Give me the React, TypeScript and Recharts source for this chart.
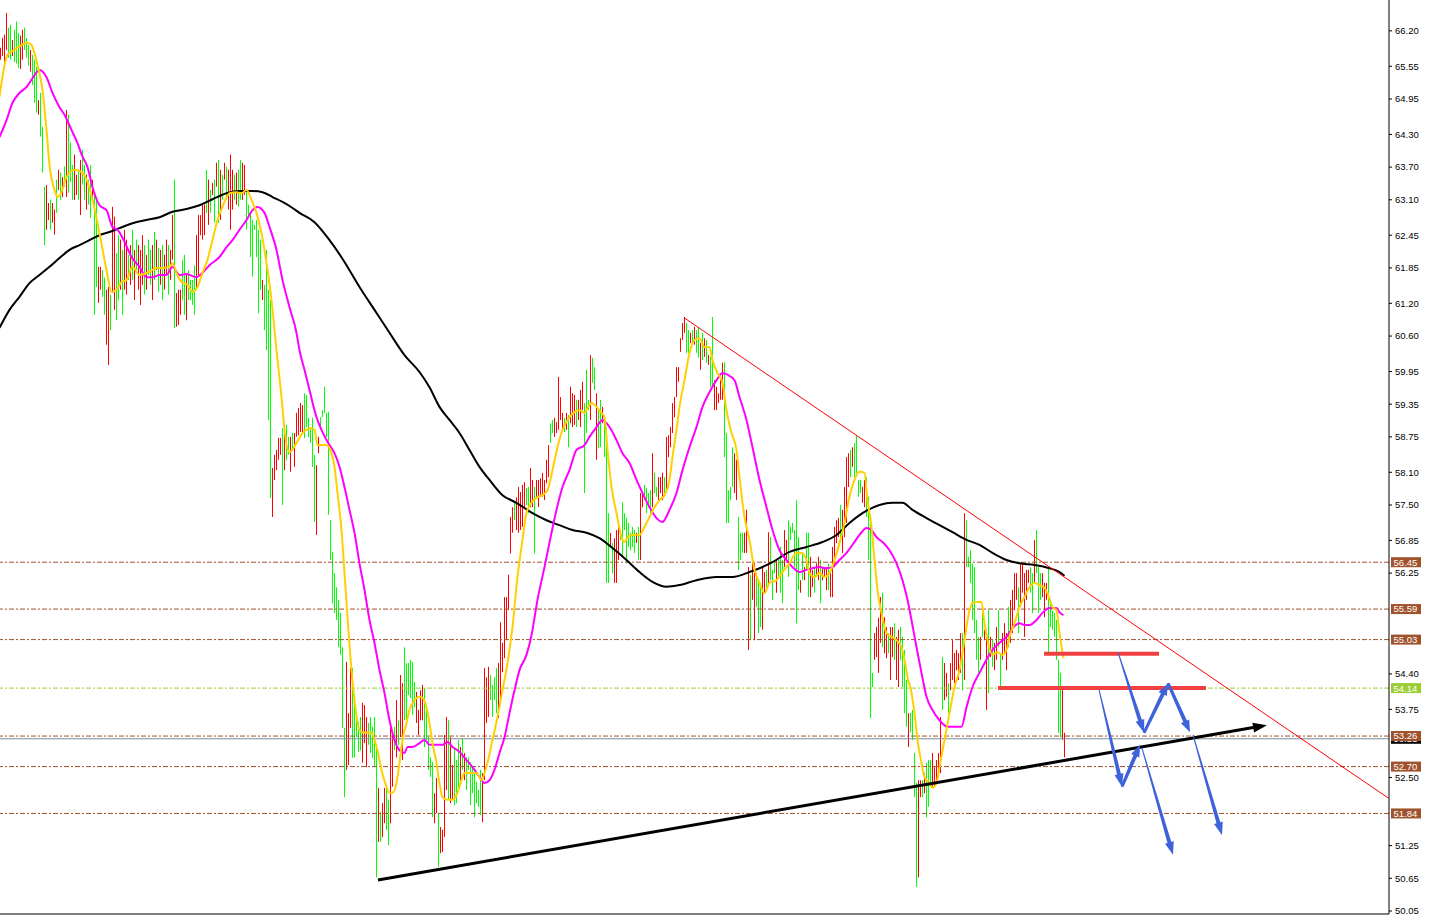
import { ComposedChart, Bar, Line, XAxis, YAxis, ReferenceLine } from 'recharts'

// price bars, one per period (high / low / direction g=up r=down)
const barHigh = [
  65.89,66.07,66.13,66.53,66.26,66.31,66.03,66.22,66.37,66.16,
  66.11,66.22,66.26,66.07,65.94,65.85,65.76,65.67,65.54,64.93,
  65.06,64.44,63.34,63.37,63.04,63.10,63.04,62.92,63.47,63.65,
  63.60,63.52,63.71,64.75,64.66,64.15,63.74,63.93,63.56,63.65,
  63.83,64.02,63.74,63.56,63.47,63.74,63.47,63.23,63.14,61.87,
  61.87,61.81,61.67,61.45,61.50,61.36,62.97,62.79,62.12,62.45,
  62.37,62.18,62.55,62.37,62.09,62.27,62.55,62.18,62.37,62.27,
  62.18,62.45,62.27,62.09,62.37,62.18,62.27,62.51,62.37,62.22,
  62.18,62.27,62.09,62.37,62.27,62.18,62.82,63.47,61.39,61.45,
  61.45,62.00,62.09,61.72,61.81,61.63,61.63,61.90,62.45,62.82,
  62.82,63.01,63.01,63.65,63.47,63.28,63.41,63.47,63.78,63.83,
  63.65,63.56,63.78,63.71,63.65,63.93,63.65,63.56,63.60,63.65,
  63.83,63.78,63.74,63.28,63.01,62.86,62.73,62.64,62.73,62.55,
  62.37,61.63,61.54,62.18,61.45,61.26,58.18,58.42,58.51,58.73,
  58.73,58.91,59.00,58.97,58.75,58.75,58.82,58.82,59.19,59.28,
  59.37,59.33,59.55,59.52,59.10,58.91,59.10,58.42,58.23,58.75,
  59.11,59.24,59.67,59.19,59.21,57.22,56.64,56.25,55.99,55.76,
  55.52,54.89,53.41,54.62,53.68,54.51,54.51,53.98,53.61,53.52,
  53.61,53.87,53.83,53.61,53.50,53.61,53.43,53.61,53.10,52.31,
  51.87,52.03,52.31,52.31,52.09,53.50,53.33,53.43,53.92,53.55,
  54.38,54.23,54.89,54.60,54.60,54.66,54.62,54.25,54.07,53.74,
  54.10,54.20,54.14,53.79,53.24,52.87,52.78,52.21,52.49,51.85,
  51.59,51.54,53.28,53.61,53.55,53.24,52.73,53.04,52.82,53.19,
  53.06,53.22,52.95,52.87,52.87,52.78,52.67,52.58,52.42,52.27,
  52.64,52.58,54.51,54.34,54.53,54.38,54.20,54.34,54.51,54.60,
  55.35,54.97,55.81,55.81,56.22,57.28,57.46,57.55,57.64,57.83,
  57.74,57.87,57.92,57.81,57.83,58.18,57.96,57.83,57.96,57.96,
  57.99,58.09,57.96,58.33,58.60,59.00,59.06,59.10,59.02,59.85,
  59.48,59.19,59.10,59.19,59.15,59.67,59.55,59.52,59.43,59.43,
  59.61,59.76,59.37,59.98,59.43,60.25,60.20,60.03,59.55,59.24,
  59.43,59.30,59.11,58.93,57.35,56.99,56.80,56.89,57.04,57.13,
  56.99,57.55,57.35,57.26,57.17,56.99,57.10,57.04,56.99,57.10,
  57.72,57.74,57.87,57.81,57.72,57.77,58.45,58.09,57.83,58.01,
  58.01,58.09,58.01,58.75,58.78,58.93,59.37,59.48,60.03,60.03,
  60.56,60.84,60.95,60.84,60.71,60.66,60.71,60.77,60.71,60.77,
  60.47,60.66,60.56,60.53,60.25,60.22,60.95,59.79,59.67,59.55,
  59.79,60.11,60.12,58.82,57.77,57.83,58.56,58.45,58.33,57.28,
  56.99,56.99,56.99,57.41,56.36,56.22,56.49,56.43,56.25,56.12,
  56.07,56.36,56.27,56.31,57.00,56.91,56.31,56.49,56.49,56.49,
  56.73,56.49,57.04,56.86,57.22,57.10,57.17,57.04,57.59,56.91,
  56.12,56.62,56.36,56.99,56.99,56.55,56.31,56.36,56.43,56.55,
  56.49,56.36,56.36,56.36,56.43,56.25,56.73,57.10,57.22,57.26,
  57.50,57.41,57.83,58.38,58.45,58.51,58.56,58.64,58.78,57.96,
  57.96,57.83,57.96,58.01,57.65,57.22,54.42,55.15,55.26,55.43,
  55.81,55.89,55.44,55.26,55.15,55.26,55.26,55.33,55.08,55.21,
  55.26,55.08,54.84,54.29,53.68,53.68,53.74,52.95,52.40,52.45,
  52.45,52.45,52.58,52.77,52.82,52.82,52.95,52.69,52.82,52.95,
  53.61,54.71,54.60,54.42,54.23,54.60,55.02,54.78,54.84,54.78,
  55.15,55.15,57.35,57.22,56.55,56.67,56.43,56.36,55.39,55.08,
  55.08,55.52,55.21,55.15,55.57,55.08,55.02,54.97,55.26,55.57,
  54.78,55.15,55.33,55.15,55.63,55.76,55.94,56.25,56.25,55.99,
  56.43,56.43,56.25,56.31,56.31,56.36,56.25,56.86,57.04,56.36,
  56.25,56.25,56.07,56.07,56.36,55.76,55.57,55.52,55.39,54.66,
  54.42,54.16,53.32,
]

const barLow = [
  65.67,65.74,65.63,65.85,65.71,65.67,65.74,65.63,65.60,65.52,
  65.50,65.67,65.85,65.71,65.56,65.45,65.21,64.88,64.70,64.66,
  64.26,63.60,62.27,62.55,62.73,62.55,62.68,62.46,62.86,63.28,
  63.10,63.15,63.34,63.15,63.23,63.43,63.10,63.10,63.19,63.10,
  62.82,63.38,63.10,62.92,63.01,62.77,63.10,60.99,61.50,61.21,
  61.45,61.32,60.99,60.44,60.07,60.71,61.39,61.08,60.89,61.26,
  61.45,60.99,61.45,61.36,61.63,61.54,61.63,61.26,61.81,61.45,
  61.17,61.54,61.36,61.45,61.72,61.54,61.26,61.63,61.81,61.41,
  61.54,61.26,61.45,61.72,61.36,61.63,62.00,60.75,60.77,60.80,
  60.99,61.26,60.99,60.89,61.26,61.26,61.17,60.99,61.45,61.72,
  62.45,62.37,62.45,62.86,62.64,62.86,63.19,62.68,63.34,62.68,
  62.73,63.10,63.47,63.10,62.92,62.55,62.92,63.10,63.01,62.97,
  63.10,63.10,63.19,62.55,62.82,62.05,61.69,62.55,62.05,61.02,
  61.45,61.26,60.71,60.34,59.06,57.63,57.28,57.96,58.14,58.33,
  58.42,57.50,58.14,58.33,58.42,58.11,58.51,58.20,58.75,58.78,
  58.84,58.82,58.73,58.93,58.75,58.64,58.20,57.19,56.95,58.45,
  58.88,59.11,59.19,58.75,57.32,56.49,55.70,55.52,55.39,54.89,
  54.75,53.41,52.14,52.64,52.73,53.41,52.86,52.87,53.24,52.97,
  53.00,52.77,53.13,52.69,53.10,52.95,52.86,52.69,50.67,51.32,
  51.32,51.41,51.66,51.54,51.26,51.66,52.33,53.00,52.87,53.10,
  53.24,52.82,53.55,53.55,54.01,53.96,53.65,53.79,53.50,53.28,
  53.55,53.55,53.06,53.19,52.64,52.51,51.77,51.66,51.85,50.86,
  51.11,51.13,51.41,52.27,52.09,52.03,52.09,51.99,52.03,52.27,
  52.45,52.64,52.45,52.27,52.64,51.99,52.21,51.77,52.03,51.96,
  51.81,51.68,52.45,53.50,53.61,53.92,53.61,53.92,53.68,53.59,
  53.96,54.43,54.69,55.02,55.57,56.61,56.99,57.22,57.04,56.99,
  57.04,57.10,57.46,57.50,57.35,57.46,57.46,56.61,57.65,57.46,
  57.65,57.65,57.59,57.90,58.01,58.64,58.82,58.75,58.82,58.88,
  59.06,58.88,58.84,58.88,58.56,59.00,58.93,58.97,58.93,59.06,
  58.93,59.24,57.72,58.82,59.24,59.06,59.74,59.61,58.33,58.54,
  58.56,59.00,58.38,56.07,56.07,56.73,56.25,56.07,56.07,56.49,
  56.86,56.55,57.04,56.43,56.73,56.67,56.73,56.62,56.80,56.49,
  56.49,57.46,57.59,57.35,57.46,57.35,57.46,57.72,57.65,57.59,
  57.72,57.59,57.72,57.74,58.38,58.56,58.82,59.11,59.48,59.76,
  60.31,60.53,60.66,60.29,60.29,60.47,60.47,60.44,60.29,60.20,
  59.98,60.16,60.22,60.11,60.07,59.67,59.67,59.24,59.24,59.37,
  59.43,59.43,58.38,57.17,57.17,57.59,57.83,57.72,57.59,56.31,
  56.49,56.62,56.62,56.62,54.84,55.02,55.76,55.02,55.63,55.15,
  55.26,55.21,55.89,55.99,56.07,56.12,55.76,56.25,55.89,56.18,
  55.89,55.70,56.36,56.49,56.18,56.86,56.99,56.36,55.33,55.94,
  55.89,56.12,56.12,56.31,55.81,55.81,55.99,55.89,56.18,56.12,
  55.70,56.12,56.18,55.94,55.94,55.81,55.81,56.36,56.80,56.91,
  56.86,56.62,56.91,57.17,57.83,58.01,58.20,58.01,58.09,57.65,
  57.72,57.54,57.46,57.28,56.49,53.59,54.16,54.66,54.71,54.42,
  54.97,54.89,54.78,54.69,54.78,54.29,54.71,54.66,54.29,54.16,
  54.66,54.16,53.68,53.43,53.06,53.33,53.19,52.14,50.49,50.67,
  52.14,52.14,52.21,51.77,51.96,52.33,52.33,52.33,52.45,52.51,
  52.58,53.74,53.92,53.98,53.68,54.10,54.29,54.23,54.47,54.29,
  54.42,54.10,54.29,56.36,56.36,56.07,55.39,55.15,54.66,54.42,
  54.66,55.08,55.02,53.74,54.05,54.71,54.53,54.47,54.66,54.89,
  54.10,54.66,54.78,54.47,54.89,54.97,55.15,55.57,55.76,55.15,
  55.63,55.89,55.08,55.76,56.07,55.89,55.52,56.07,56.25,55.52,
  55.76,55.81,55.44,55.76,54.78,55.26,55.21,55.08,54.66,53.32,
  53.24,53.19,52.87,
]

const barDir =
  'rrrrggrggg' + 'rrgggrgggr' + 'gggrrgrrgr' + 'grgrgggrrg' + 'rggrggrggr' +
  'rggrrgrrgg' + 'rgrrgrgrgr' + 'rrgrggrgrg' + 'rgrrgrrgrr' + 'rggrggggrr' +
  'rrrgrgrgrg' + 'rgrgrrrgrg' + 'grrggggggg' + 'grggggrrrr' + 'rgrggrgrrr' +
  'rrggggggrr' + 'gggggggggg' + 'gggrrrgggg' + 'grrrgggggr' + 'grrggrrgrg' +
  'rrggggggrr' + 'rrgggggrrg' + 'rrrrgrrggg' + 'rgrggggggg' + 'grrrrggggr' +
  'rrrrrrrgrr' + 'rrrggrrgrr' + 'rrrrrggrrr' + 'rrgrgrrrgr' + 'rrgggrggrg' +
  'grgggrgrrr' + 'ggggggggrg' + 'rrggggrggr' + 'rrgrrrrrrr' + 'rrrggrgrgg' +
  'rgrgrggrrr' + 'rrgggggrrg' + 'ggrrrgrrgg' + 'grrgrgggrg' + 'ggrrgggggg' +
  'rgrggrrgrr' + 'grrrgrrrrr' + 'grrrrgrggg' + 'grrggggrrr' + 'rgrrgrrgrr' +
  'ggggrggggr' + 'rgrgggrrrr' + 'rgrrgrrrrr' + 'rgrggggggg' + 'rgrrgrgrrg' +
  'grrrgrrrrg' + 'rrrrrggrgg' + 'grrrgggggg' + 'grr'

// moving averages: [bar index, price]
const maFast: [number, number][] = [
  [-0.5,64.99],[3.5,65.76],[7,65.85],[10.5,65.94],[13.5,65.98],[15.5,65.94],[16.5,65.85],[18.5,65.57],[21,65.11],[23,64.38],
  [24.5,63.74],[27,63.28],[28.5,63.15],[30.5,63.24],[33,63.52],[37,63.65],[41,63.59],[43.5,63.43],[46,63.10],[49.5,62.49],
  [53,61.81],[55.5,61.41],[58,61.45],[60.5,61.59],[63,61.63],[66,61.87],[69.5,61.72],[74.5,61.78],[78,61.85],[81,61.85],
  [84.5,61.87],[86,61.94],[88,61.76],[90.5,61.59],[93.5,61.54],[96,61.41],[98.5,61.50],[101,61.76],[103.5,62.00],[106,62.36],
  [108.5,62.73],[111,62.97],[114.5,63.22],[118,63.24],[120.5,63.22],[123,63.28],[125.5,63.10],[128,62.86],[130.5,62.49],[133,61.94],
  [135.5,61.26],[138,60.34],[140.5,59.48],[142,58.88],[144.5,58.47],[148,58.64],[151,58.82],[155.5,58.91],[157,58.88],[158.5,58.60],
  [163,58.60],[164.5,58.54],[167,58.20],[168.5,57.72],[170.5,57.04],[172,56.25],[173.5,55.44],[175.5,54.47],[177,53.92],[179.5,53.37],
  [182,53.32],[183.5,53.33],[185.5,53.32],[187,53.19],[188.5,53.00],[190.5,52.64],[193,52.33],[194.5,52.22],[196,52.22],[198,52.40],
  [199.5,52.77],[201,53.19],[203,53.50],[204.5,53.74],[207,53.92],[209.5,53.98],[211,53.96],[213,53.79],[214.5,53.50],[216,53.13],
  [218,52.77],[219.5,52.40],[221,52.14],[223.5,52.09],[226,52.09],[228.5,52.22],[230.5,52.45],[232,52.58],[234.5,52.58],[238,52.58],
  [240.5,52.45],[242,52.58],[243.5,52.77],[246,53.19],[248.5,53.61],[251,54.10],[253.5,54.60],[256,55.26],[258.5,56.18],[260.5,56.73],
  [263,57.35],[265.5,57.54],[268,57.63],[271,57.68],[273.5,57.77],[276,58.14],[278.5,58.56],[281,58.88],[284.5,59.11],[287,59.21],
  [289.5,59.24],[292,59.19],[293.5,59.28],[295.5,59.37],[298,59.30],[300.5,59.19],[302,59.11],[303.5,58.51],[305.5,57.83],[308,57.35],
  [310.5,56.91],[312,56.82],[313.5,56.91],[316,56.95],[319.5,56.95],[322,57.10],[324.5,57.28],[327,57.46],[329.5,57.59],[332,57.68],
  [334.5,57.96],[336,58.38],[338,58.88],[339.5,59.30],[342,59.79],[344.5,60.29],[347,60.53],[349.5,60.56],[352,60.40],[354.5,60.40],
  [356,60.16],[358.5,59.92],[361,59.74],[363,59.24],[365.5,58.82],[368,58.51],[369.5,58.01],[372,57.28],[374.5,56.86],[377,56.31],
  [379.5,56.07],[382,55.88],[384.5,56.07],[388,56.12],[391,56.27],[394.5,56.43],[398,56.62],[400.5,56.62],[403,56.49],[404.5,56.25],
  [407,56.18],[409.5,56.25],[412,56.18],[414.5,56.25],[417,56.49],[419.5,56.80],[422,57.17],[424.5,57.65],[427,57.96],[429.5,58.11],
  [432,58.09],[433.5,57.59],[435.5,57.10],[437,56.49],[438.5,55.94],[440.5,55.52],[443,55.15],[445.5,55.08],[448,55.02],[450.5,54.89],
  [452,54.66],[453.5,54.34],[455.5,54.05],[457,53.68],[458.5,53.19],[460.5,52.77],[462,52.51],[464.5,52.40],[466,52.31],[468,52.40],
  [469.5,52.69],[472,53.19],[474.5,53.68],[477,54.16],[479.5,54.47],[482,55.02],[484.5,55.57],[486,55.70],[488.5,55.72],[490.5,55.72],
  [492,55.33],[493.5,55.02],[496,54.75],[498.5,54.80],[501,54.75],[503,54.84],[504.5,55.08],[507,55.33],[509.5,55.63],[512,55.81],
  [514.5,55.99],[517,56.07],[519.5,56.03],[522,55.98],[523.5,55.88],[526,55.63],[528,55.57],[529.5,55.15],[531.5,54.69],
]

const maMid: [number, number][] = [
  [-0.5,64.25],[3,64.56],[6,64.88],[9.5,65.06],[13,65.17],[16,65.33],[19.5,65.48],[23,65.35],[26,65.06],[29.5,64.80],
  [32,64.66],[35.5,64.38],[38.5,64.14],[41,63.89],[43.5,63.70],[46,63.33],[49.5,63.00],[53,62.91],[56,62.60],[58.5,62.55],
  [62,62.33],[65.5,62.05],[69.5,61.87],[73,61.68],[76,61.68],[79.5,61.72],[83,61.72],[86,61.87],[89.5,61.72],[93,61.74],
  [98,61.68],[101,61.76],[104.5,61.90],[109.5,62.05],[113,62.23],[116,62.36],[119.5,62.55],[123,62.73],[126,62.91],[128.5,62.97],
  [132,62.86],[134.5,62.60],[138,62.18],[141,61.63],[144.5,61.13],[148,60.66],[149.5,60.34],[152,59.98],[154.5,59.61],[158,59.11],
  [160.5,58.88],[163.5,58.66],[167,58.45],[169.5,58.20],[172,57.83],[174.5,57.41],[177,56.99],[179.5,56.43],[182,55.94],[184.5,55.39],
  [187,54.97],[189.5,54.47],[192,54.05],[194.5,53.55],[197,53.19],[199.5,53.00],[202,52.95],[203.5,53.06],[206,53.06],[209.5,53.13],
  [212,53.19],[214.5,53.10],[218,53.10],[221,53.10],[223.5,53.15],[226,53.06],[229.5,52.97],[233,52.82],[236,52.69],[239.5,52.51],
  [242,52.40],[244.5,52.45],[247,52.64],[249.5,52.95],[252,53.24],[254.5,53.68],[257,54.10],[259.5,54.47],[263,54.75],[265.5,55.11],
  [268.5,55.76],[272,56.36],[275.5,56.99],[278,57.41],[281,57.83],[284.5,58.14],[288,58.51],[292,58.60],[294.5,58.75],[298,58.93],
  [301,59.06],[304.5,58.93],[308,58.69],[311,58.45],[314.5,58.27],[318,57.96],[321,57.72],[324.5,57.46],[328,57.26],[331,57.19],
  [334.5,57.41],[338,57.72],[341,58.14],[344.5,58.56],[348,58.93],[351,59.30],[354.5,59.57],[358,59.79],[361,59.92],[363.5,59.89],
  [367,59.79],[369.5,59.48],[373,59.06],[376,58.56],[379.5,57.96],[383,57.46],[386,57.04],[389.5,56.67],[393,56.49],[396,56.36],
  [399.5,56.27],[403,56.31],[406,56.34],[409.5,56.36],[413,56.34],[416,56.36],[419.5,56.49],[423,56.62],[426,56.77],[429.5,56.95],
  [433,57.08],[435.5,57.04],[438,56.91],[441,56.82],[444.5,56.67],[448,56.43],[451,56.12],[453.5,55.76],[455.5,55.39],[458,54.89],
  [460.5,54.42],[463,53.98],[466,53.74],[469.5,53.55],[473.5,53.43],[480.5,53.43],[483,53.79],[486,54.16],[489.5,54.42],[493,54.66],
  [496,54.84],[499.5,54.97],[503,55.08],[506,55.24],[509.5,55.33],[512,55.30],[514.5,55.30],[518,55.39],[521,55.52],[524.5,55.61],
  [528,55.61],[529.5,55.53],[531.5,55.48],
]

const maSlow: [number, number][] = [
  [-0.5,60.75],[4.5,61.08],[9.5,61.32],[14.5,61.57],[19.5,61.72],[24.5,61.87],[29.5,62.03],[34.5,62.18],[39.5,62.27],[44.5,62.36],
  [49.5,62.45],[54.5,62.51],[59.5,62.58],[66,62.67],[73,62.73],[79.5,62.78],[86,62.88],[93,62.93],[99.5,63.00],[106,63.11],
  [113,63.22],[119.5,63.26],[126,63.26],[131,63.24],[136,63.15],[141,63.06],[146,62.95],[149.5,62.86],[157,62.69],[164.5,62.36],
  [172,61.96],[179.5,61.50],[187,61.08],[194.5,60.66],[202,60.25],[209.5,59.94],[214.5,59.66],[219.5,59.30],[224.5,59.06],[229.5,58.82],
  [234.5,58.51],[239.5,58.20],[244.5,57.96],[251,57.68],[258,57.54],[266,57.35],[273,57.22],[279.5,57.13],[286,57.04],[293,56.99],
  [299.5,56.89],[306,56.71],[313,56.49],[319.5,56.27],[326,56.09],[333,56.00],[339.5,56.03],[348,56.12],[358,56.18],[366,56.18],
  [374.5,56.27],[386,56.45],[394.5,56.64],[403,56.73],[411,56.82],[418,56.95],[424.5,57.17],[431,57.35],[439.5,57.50],[446,57.54],
  [451,57.54],[456,57.41],[463,57.26],[469.5,57.13],[476,57.00],[483,56.86],[489.5,56.77],[496,56.62],[503,56.49],[509.5,56.43],
  [517,56.40],[524.5,56.34],[529.5,56.27],[532,56.20],
]

// horizontal levels
const brownLevels = [56.45, 55.59, 55.03, 53.26, 52.7, 51.84]
const greenLevel = 54.14
const lastPrice = 53.21

// drawn objects, in [bar index, price]
const resistanceLine: [number, number][] = [[342, 60.93], [694, 52.12]]
const supportLine: [number, number][] = [[188.75, 50.62], [633.25, 53.46]]
const zoneUpper = { from: 521.75, to: 579.25, price: 54.77 }
const zoneLower = { from: 498.75, to: 602.75, price: 54.14 }
const pathA: [number, number][] = [[549.25, 54.11], [560.75, 52.33], [569.75, 53.1]]
const tailA: [number, number][] = [[570.75, 53.04], [586.25, 51.08]]
const pathB: [number, number][] = [[558.75, 54.8], [571.75, 53.32], [583.75, 54.23], [594.75, 53.33]]
const tailB: [number, number][] = [[596.25, 53.28], [610.75, 51.44]]

const yTicks = [66.2, 65.55, 64.95, 64.3, 63.7, 63.1, 62.45, 61.85, 61.2, 60.6, 59.95, 59.35, 58.75, 58.1, 57.5, 56.85, 56.25, 54.4, 53.75, 52.5, 51.25, 50.65, 50.05]
const xTicks = Array.from({ length: 22 }, (_, k) => 14 + 32 * k)

const bars = barHigh.map((h, i) => ({ i, hl: [barLow[i], h], up: barDir[i] === 'g' }))
const toPts = (arr: [number, number][]) => arr.map(([i, v]) => ({ i, v }))

const BROWN = '#A0522D'
const GREEN_LVL = '#9ACD32'
const BLUE = '#3D62DA'

function HLBar(props: any) {
  const { x, y, width, height, payload } = props
  if (y == null || height == null || isNaN(y)) return null
  const top = Math.min(y, y + height)
  const h = Math.max(1, Math.abs(height))
  const col = Math.floor(x + width / 2)
  return <rect x={col} y={top} width={1} height={h} fill={payload.up ? '#00FF00' : '#FF0000'} />
}

function PriceTag({ viewBox, price, color }: any) {
  if (!viewBox) return null
  const x = viewBox.x + viewBox.width + 2
  const y = viewBox.y
  return (
    <g>
      <rect x={x} y={y - 5} width={30} height={10} fill={color} />
      <text x={x + 2.5} y={y} dy="0.36em" fill="#fff" fontSize={9.5} fontFamily="Liberation Sans, Arial, sans-serif">
        {price.toFixed(2)}
      </text>
    </g>
  )
}

function arrowShape(color: string, tail: number, body: number, headLen: number, headW: number) {
  return (props: any) => {
    const { x1, y1, x2, y2 } = props
    if ([x1, y1, x2, y2].some((n) => n == null || isNaN(n))) return <g />
    const dx = x2 - x1
    const dy = y2 - y1
    const len = Math.hypot(dx, dy) || 1
    const ux = dx / len
    const uy = dy / len
    const nx = -uy
    const ny = ux
    const bx = x2 - ux * headLen
    const by = y2 - uy * headLen
    const pts = [
      [x1 + (nx * tail) / 2, y1 + (ny * tail) / 2],
      [bx + (nx * body) / 2, by + (ny * body) / 2],
      [bx + (nx * headW) / 2, by + (ny * headW) / 2],
      [x2, y2],
      [bx - (nx * headW) / 2, by - (ny * headW) / 2],
      [bx - (nx * body) / 2, by - (ny * body) / 2],
      [x1 - (nx * tail) / 2, y1 - (ny * tail) / 2],
    ]
    return <polygon points={pts.map((p) => p.join(',')).join(' ')} fill={color} />
  }
}

const seg = (a: [number, number], b: [number, number]) => [
  { x: a[0], y: a[1] },
  { x: b[0], y: b[1] },
]

const thinToThick = arrowShape(BLUE, 1, 4, 13, 9)
const thickArrow = arrowShape(BLUE, 3, 4, 12, 9)
const blackArrow = arrowShape('#000', 3, 3, 14, 10)

export default function App() {
  return (
    <div style={{ position: 'absolute', left: 0, top: 0, width: 1430, height: 917, background: '#fff' }}>
      <ComposedChart
        width={1430}
        height={917}
        data={bars}
        margin={{ top: 0, right: 0, bottom: 0, left: 0 }}
        style={{ fontFamily: 'Liberation Sans, Arial, sans-serif' }}
      >
        <XAxis
          type="number"
          dataKey="i"
          domain={[-0.25, 694.25]}
          allowDataOverflow
          ticks={xTicks}
          interval={0}
          tick={false}
          tickSize={3}
          height={3}
          axisLine={{ stroke: '#000' }}
          tickLine={{ stroke: '#000' }}
        />
        <YAxis
          orientation="right"
          type="number"
          domain={[49.995, 66.766]}
          allowDataOverflow
          ticks={yTicks}
          interval={0}
          width={41}
          tickSize={3}
          tickMargin={3}
          tick={{ fill: '#000', fontSize: 9.5 }}
          tickFormatter={(v: number) => v.toFixed(2)}
          axisLine={{ stroke: '#000' }}
          tickLine={{ stroke: '#000' }}
        />

        {brownLevels.map((p) => (
          <ReferenceLine
            key={p}
            y={p}
            stroke={BROWN}
            strokeDasharray="5 2 2 2"
            label={<PriceTag price={p} color={BROWN} />}
          />
        ))}
        <ReferenceLine y={greenLevel} stroke={GREEN_LVL} strokeDasharray="5 2 2 2" label={<PriceTag price={greenLevel} color={GREEN_LVL} />} />
        <ReferenceLine y={lastPrice} stroke="#7A8A9A" label={<PriceTag price={lastPrice} color="#000" />} />
        <ReferenceLine y={53.26} stroke="none" label={<PriceTag price={53.26} color={BROWN} />} />

        <Bar dataKey="hl" barSize={1} shape={HLBar} isAnimationActive={false} />

        <Line data={toPts(maSlow)} dataKey="v" type="monotone" stroke="#000" strokeWidth={2} dot={false} activeDot={false} isAnimationActive={false} />
        <Line data={toPts(maMid)} dataKey="v" type="monotone" stroke="#FF00FF" strokeWidth={2} dot={false} activeDot={false} isAnimationActive={false} />
        <Line data={toPts(maFast)} dataKey="v" type="monotone" stroke="#FFD000" strokeWidth={2} dot={false} activeDot={false} isAnimationActive={false} />

        <ReferenceLine segment={seg(resistanceLine[0], resistanceLine[1])} stroke="#FF0000" strokeWidth={1} ifOverflow="visible" />
        <ReferenceLine segment={seg(supportLine[0], supportLine[1])} ifOverflow="visible" shape={blackArrow} />
        <ReferenceLine
          segment={[{ x: zoneUpper.from, y: zoneUpper.price }, { x: zoneUpper.to, y: zoneUpper.price }]}
          stroke="#F24040"
          strokeWidth={4}
          ifOverflow="visible"
        />
        <ReferenceLine
          segment={[{ x: zoneLower.from, y: zoneLower.price }, { x: zoneLower.to, y: zoneLower.price }]}
          stroke="#F24040"
          strokeWidth={4}
          ifOverflow="visible"
        />

        <ReferenceLine segment={seg(pathA[0], pathA[1])} ifOverflow="visible" shape={thinToThick} />
        <ReferenceLine segment={seg(pathA[1], pathA[2])} ifOverflow="visible" shape={thickArrow} />
        <ReferenceLine segment={seg(tailA[0], tailA[1])} ifOverflow="visible" shape={thinToThick} />
        <ReferenceLine segment={seg(pathB[0], pathB[1])} ifOverflow="visible" shape={thinToThick} />
        <ReferenceLine segment={seg(pathB[1], pathB[2])} ifOverflow="visible" shape={thickArrow} />
        <ReferenceLine segment={seg(pathB[2], pathB[3])} ifOverflow="visible" shape={thickArrow} />
        <ReferenceLine segment={seg(tailB[0], tailB[1])} ifOverflow="visible" shape={thinToThick} />
      </ComposedChart>
    </div>
  )
}
